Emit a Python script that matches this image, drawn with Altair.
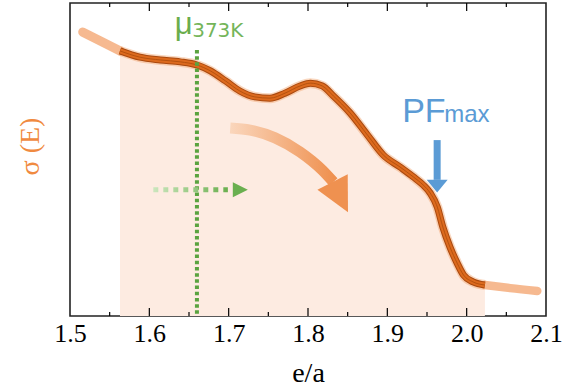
import altair as alt
import pandas as pd

# ---- curve sigma(E) vs e/a ----
curve_x = [1.516, 1.538, 1.563, 1.588, 1.614, 1.639, 1.660, 1.677, 1.696, 1.714,
           1.733, 1.752, 1.771, 1.790, 1.803, 1.818, 1.832, 1.853, 1.875, 1.895,
           1.916, 1.933, 1.945, 1.954, 1.963, 1.970, 1.979, 1.988, 1.996, 2.008,
           2.023, 2.055, 2.089]
curve_y = [90.7, 87.9, 84.7, 82.7, 81.8, 81.2, 80.2, 78.3, 75.1, 71.9,
           70.0, 69.6, 71.2, 73.5, 74.4, 73.5, 70.3, 64.9, 57.8, 51.4,
           47.6, 44.4, 41.9, 39.3, 34.8, 28.4, 22.0, 16.9, 13.1, 10.9,
           9.9, 8.9, 8.0]
fill_start = 1.563
fill_end = 2.023

# ---- axis ticks ----
x_labels = [1.5, 1.6, 1.7, 1.8, 1.9, 2.0, 2.1]
major_ticks = [1.6, 1.7, 1.8, 1.9, 2.0]
minor_ticks = [1.55, 1.65, 1.75, 1.85, 1.95, 2.05]

# ---- annotations (data units) ----
mu_x = [1.66]
mu_top = [85.0]
mu_label_x = [1.632]
mu_label_y = [90.1]
sub_label_x = [1.654]
sub_label_y = [89.1]
green_arrow_x = [1.605, 1.699]
green_arrow_y = [40.3, 40.36]
green_head = [(1.7147, 40.3)]
orange_arrow_x = [1.702, 1.727, 1.7585, 1.790, 1.818, 1.832]
orange_arrow_y = [60.1, 59.4, 56.9, 52.4, 46.6, 42.8]
orange_head = [(1.8407, 38.0)]
pf_x = [1.9187]
pf_y = [62.0]
max_x = [1.9716]
blue_arrow_x = [1.9628]
blue_arrow_y = [56.2, 43.5]
blue_head = [(1.9628, 41.5)]

SERIF = "Liberation Serif"
SANS = "Liberation Sans"

curve = pd.DataFrame({"x": curve_x, "y": curve_y})

xscale = alt.Scale(domain=[1.5, 2.1], nice=False, zero=False)
yscale = alt.Scale(domain=[0, 100], nice=False)
xaxis = alt.Axis(values=x_labels, format=".1f", labelFont=SERIF,
                 labelFontSize=26, labelColor="black", ticks=False, domain=False,
                 grid=False, labelPadding=4, labelFlush=False, title="e/a",
                 titleFont=SERIF, titleFontSize=28,
                 titleFontWeight="normal", titleColor="black", titlePadding=13)
yaxis = alt.Axis(title="σ (E)", labels=False, ticks=False, domain=False, grid=False,
                 titleColor="#f08a40", titleFont=SERIF, titleFontSize=28,
                 titleFontWeight="normal", titleAngle=270, titleAlign="center",
                 titleBaseline="middle", titleX=-40, titleY=143)


def X(f):
    return alt.X(f, type="quantitative", scale=xscale, axis=xaxis)


def Y(f):
    return alt.Y(f, type="quantitative", scale=yscale, axis=yaxis)


base = alt.Chart(curve)
inside = base.transform_filter(
    f"datum.x >= {fill_start} && datum.x <= {fill_end}")

area = inside.mark_area(interpolate="monotone", color="#fdebe1").encode(x=X("x"), y=Y("y"))

light_left = base.transform_filter(f"datum.x <= {fill_start}").mark_line(
    interpolate="monotone", color="#f5ad7c", strokeWidth=9, opacity=0.85,
    strokeCap="round").encode(x=X("x"), y=Y("y"))
light_right = base.transform_filter(f"datum.x >= {fill_end}").mark_line(
    interpolate="monotone", color="#f5ad7c", strokeWidth=8.5, opacity=0.85,
    strokeCap="round").encode(x=X("x"), y=Y("y"))

glow = inside.mark_line(interpolate="monotone", color="#f09a60", strokeWidth=10,
                        opacity=0.4).encode(x=X("x"), y=Y("y"))
edge = inside.mark_line(interpolate="monotone", color="#a9490f",
                        strokeWidth=7).encode(x=X("x"), y=Y("y"))
core = inside.mark_line(interpolate="monotone", color="#dc6a1e",
                        strokeWidth=5).encode(x=X("x"), y=Y("y"))
center = inside.mark_line(interpolate="monotone", color="#b5520f",
                          strokeWidth=1).encode(x=X("x"), y=Y("y"))

# ticks (inward)
maj = pd.DataFrame({"t": major_ticks})
mnr = pd.DataFrame({"t": minor_ticks})
tick_bottom_major = alt.Chart(maj).mark_rule(color="black", strokeWidth=1.2).encode(
    x=X("t"), y=alt.value(313), y2=alt.value(305))
tick_bottom_minor = alt.Chart(mnr).mark_rule(color="black", strokeWidth=1.2).encode(
    x=X("t"), y=alt.value(313), y2=alt.value(309))
tick_top_major = alt.Chart(maj).mark_rule(color="black", strokeWidth=1.2).encode(
    x=X("t"), y=alt.value(0), y2=alt.value(8))
tick_top_minor = alt.Chart(mnr).mark_rule(color="black", strokeWidth=1.2).encode(
    x=X("t"), y=alt.value(0), y2=alt.value(4))

# green vertical dotted line
mu_df = pd.DataFrame({"x": mu_x, "y": mu_top, "y0": [0]})
mu_line = alt.Chart(mu_df).mark_rule(color="#5aa33f", strokeWidth=4,
                                     strokeDash=[3.5, 2.7]).encode(
    x=X("x"), y=Y("y"), y2="y0")

mu_text = alt.Chart(pd.DataFrame({"x": mu_label_x, "y": mu_label_y, "t": ["μ"]})).mark_text(
    align="left", baseline="alphabetic", font=SANS, fontSize=31,
    color="#6aad4c").encode(x=X("x"), y=Y("y"), text="t")
sub_text = alt.Chart(pd.DataFrame({"x": sub_label_x, "y": sub_label_y, "t": ["373K"]})).mark_text(
    align="left", baseline="alphabetic", font="DejaVu Sans", fontSize=20,
    color="#74b55a").encode(x=X("x"), y=Y("y"), text="t")

# green dotted arrow
ga_df = pd.DataFrame({"x": green_arrow_x, "y": green_arrow_y})
green_grad = alt.Gradient(gradient="linear", x1=0, x2=1, y1=0, y2=0,
                          stops=[alt.GradientStop(color="#cbe6bd", offset=0),
                                 alt.GradientStop(color="#6aaf4f", offset=1)])
green_line = alt.Chart(ga_df).mark_line(stroke=green_grad, strokeWidth=5,
                                        strokeDash=[5, 5]).encode(x=X("x"), y=Y("y"))
gh_df = pd.DataFrame(green_head, columns=["x", "y"])
green_tri = alt.Chart(gh_df).mark_point(shape="M-1,-1L1,0L-1,1Z", filled=True, size=225,
                                        color="#6aaf4f", opacity=1).encode(x=X("x"), y=Y("y"))

# orange curved arrow
oa_df = pd.DataFrame({"x": orange_arrow_x, "y": orange_arrow_y})
orange_grad = alt.Gradient(gradient="linear", x1=0, x2=1, y1=0, y2=0,
                           stops=[alt.GradientStop(color="#fad6bc", offset=0),
                                  alt.GradientStop(color="#ef9150", offset=1)])
orange_line = alt.Chart(oa_df).mark_line(stroke=orange_grad, strokeWidth=11,
                                         interpolate="monotone").encode(x=X("x"), y=Y("y"))
oh_df = pd.DataFrame(orange_head, columns=["x", "y"])
orange_tri = alt.Chart(oh_df).mark_point(shape="M-1,-1L1,0L-1,1Z", filled=True, size=1156,
                                         angle=63, color="#ef9150", opacity=1).encode(
    x=X("x"), y=Y("y"))

# PF max
pf_text = alt.Chart(pd.DataFrame({"x": pf_x, "y": pf_y, "t": ["PF"]})).mark_text(
    align="left", baseline="alphabetic", font=SANS, fontSize=34, fontWeight=500,
    color="#5b9bd5").encode(x=X("x"), y=Y("y"), text="t")
max_text = alt.Chart(pd.DataFrame({"x": max_x, "y": pf_y, "t": ["max"]})).mark_text(
    align="left", baseline="alphabetic", font=SANS, fontSize=24, fontWeight=500,
    color="#5b9bd5").encode(x=X("x"), y=Y("y"), text="t")
ba_df = pd.DataFrame({"x": blue_arrow_x, "y": [blue_arrow_y[0]], "y2": [blue_arrow_y[1]]})
blue_shaft = alt.Chart(ba_df).mark_rule(color="#5b9bd5", strokeWidth=7).encode(
    x=X("x"), y=Y("y"), y2="y2")
bh_df = pd.DataFrame(blue_head, columns=["x", "y"])
blue_tri = alt.Chart(bh_df).mark_point(shape="M-1,-0.6L1,-0.6L0,0.6Z", filled=True, size=441,
                                       color="#5b9bd5", opacity=1).encode(x=X("x"), y=Y("y"))

chart = alt.layer(
    area, light_left, light_right, glow, edge, core, center,
    mu_line, green_line, green_tri, orange_line, orange_tri,
    blue_shaft, blue_tri, mu_text, sub_text, pf_text, max_text,
    tick_bottom_major, tick_bottom_minor, tick_top_major, tick_top_minor,
).properties(
    width=476, height=313,
    autosize=alt.AutoSizeParams(type="none"),
    padding={"left": 70, "top": 3, "right": 23, "bottom": 76},
    background="white",
).configure_view(stroke="#222222", strokeWidth=1.6
).configure_axis(labelFont=SERIF, titleFont=SERIF)

chart.save("out.html", embed_options={"renderer": "svg", "actions": False})
